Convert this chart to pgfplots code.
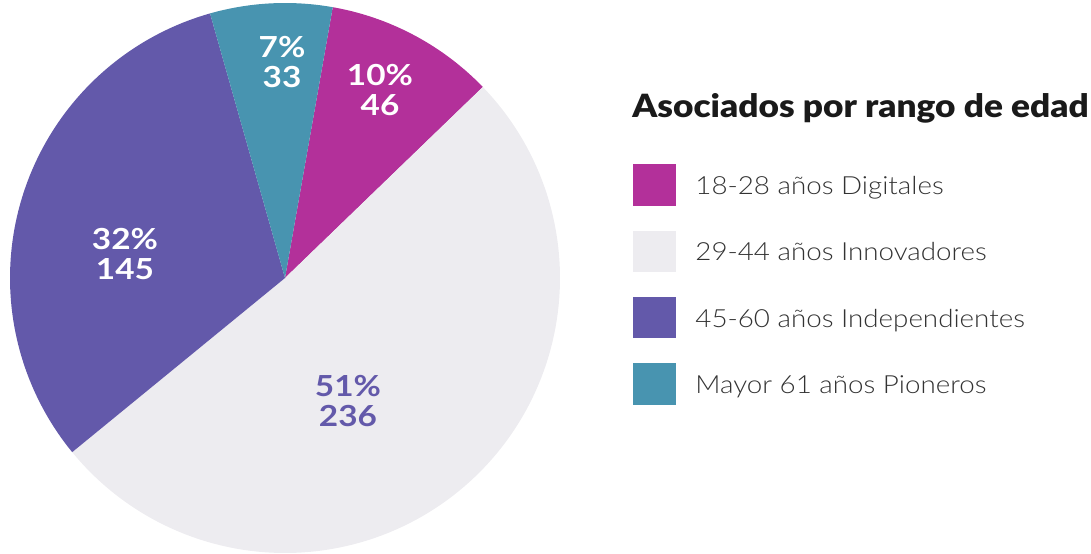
\documentclass[border=0pt]{standalone}
\usepackage{pgfplots}
\pgfplotsset{compat=1.18}
\usepackage{pgfplotstable}
\usepackage{fontspec}
\setmainfont{Lato}
\newfontfamily\lightfont{Lato Light}[FakeStretch=1.11]
\newfontfamily\blackfont{Lato Black}[FakeStretch=1.1]
\newfontfamily\lblfont{Lato}[FakeStretch=1.15]
\definecolor{cMag}{HTML}{B3309A}
\definecolor{cGray}{HTML}{EDECF0}
\definecolor{cPur}{HTML}{6359AA}
\definecolor{cTeal}{HTML}{4894B0}
\definecolor{cTitle}{HTML}{1A1A1A}
\definecolor{cText}{HTML}{333333}

% data: value of each age group
\pgfplotstableread{
group value
Digitales 46
Innovadores 236
Independientes 145
Pioneros 33
}\piedata
\pgfplotstablegetelem{0}{value}\of\piedata \let\vMag\pgfplotsretval
\pgfplotstablegetelem{1}{value}\of\piedata \let\vGray\pgfplotsretval
\pgfplotstablegetelem{2}{value}\of\piedata \let\vPur\pgfplotsretval
\pgfplotstablegetelem{3}{value}\of\piedata \let\vTeal\pgfplotsretval
\pgfmathsetmacro\total{\vMag+\vGray+\vPur+\vTeal}
\pgfmathsetmacro\aA{44}
\pgfmathsetmacro\aB{\aA+360*(\vMag/\total)}
\pgfmathsetmacro\aC{\aB+360*(\vTeal/\total)}
\pgfmathsetmacro\aD{\aC+360*(\vPur/\total)}
\pgfmathsetmacro\aE{\aD+360*(\vGray/\total)}
\def\cx{285}\def\cy{275}\def\R{275}

\begin{document}
\begin{tikzpicture}
\begin{axis}[
  scale only axis, width=545.5pt, height=276.5pt,
  xmin=0, xmax=1091, ymin=0, ymax=553,
  hide axis, clip=false,
]
\path (rel axis cs:0,0) rectangle (rel axis cs:1,1);
\addplot[fill=cMag, draw=none, domain=\aA:\aB, samples=60, variable=\t]
  ({\cx+\R*cos(t)},{\cy+\R*sin(t)}) -- (axis cs:\cx,\cy) -- cycle;
\addplot[fill=cGray, draw=none, domain=\aD:\aE, samples=120, variable=\t]
  ({\cx+\R*cos(t)},{\cy+\R*sin(t)}) -- (axis cs:\cx,\cy) -- cycle;
\addplot[fill=cPur, draw=none, domain=\aC:\aD, samples=90, variable=\t]
  ({\cx+\R*cos(t)},{\cy+\R*sin(t)}) -- (axis cs:\cx,\cy) -- cycle;
\addplot[fill=cTeal, draw=none, domain=\aB:\aC, samples=40, variable=\t]
  ({\cx+\R*cos(t)},{\cy+\R*sin(t)}) -- (axis cs:\cx,\cy) -- cycle;

% slice labels
\tikzset{lbl/.style={font=\lblfont\bfseries\fontsize{14.5}{15}\selectfont, align=center, inner sep=0pt}}
\node[lbl, text=white] at (axis cs:380,463) {10\%\\46};
\node[lbl, text=white] at (axis cs:282,491) {7\%\\33};
\node[lbl, text=white] at (axis cs:125,299) {32\%\\145};
\node[lbl, text=cPur]  at (axis cs:348,152) {51\%\\236};

% title
\node[anchor=base west, inner sep=0pt, text=cTitle, font=\blackfont\fontsize{16}{18}\selectfont]
  at (axis cs:632,436) {Asociados por rango de edad};

% legend
\fill[cMag]  (axis cs:633,389) rectangle (axis cs:676,347);
\fill[cGray] (axis cs:633,322) rectangle (axis cs:676,281);
\fill[cPur]  (axis cs:633,256) rectangle (axis cs:676,215);
\fill[cTeal] (axis cs:633,190) rectangle (axis cs:676,148);
\tikzset{leg/.style={anchor=base west, inner sep=0pt, text=cText, font=\lightfont\fontsize{12.5}{14}\selectfont}}
\node[leg] at (axis cs:695,359) {18-28 años Digitales};
\node[leg] at (axis cs:695,293) {29-44 años Innovadores};
\node[leg] at (axis cs:695,226) {45-60 años Independientes};
\node[leg] at (axis cs:695,160) {Mayor 61 años Pioneros};
\end{axis}
\end{tikzpicture}
\end{document}
